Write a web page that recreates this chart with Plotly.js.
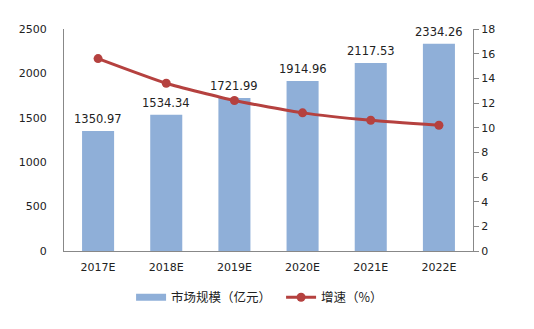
<!DOCTYPE html>
<html><head><meta charset="utf-8">
<script src="https://cdn.plot.ly/plotly-3.0.1.min.js"></script>
<style>html,body{margin:0;padding:0;background:#fff}#c{width:534px;height:329px}</style>
</head><body><div id="c"></div>
<script>
const years = ["2017E","2018E","2019E","2020E","2021E","2022E"];
const marketSize = [1350.97,1534.34,1721.99,1914.96,2117.53,2334.26];
const growth = [15.6,13.6,12.2,11.2,10.6,10.2];
const barName = "市场规模（亿元）";
const lineName = "增速（%）";
const barColor = "#8FAFD8";
const lineColor = "#B5413F";

const traces = [
  {type:"bar", x:years, y:marketSize, name:barName, marker:{color:barColor},
   width:0.47, showlegend:false},
  {type:"scatter", mode:"lines", x:[years[0]], y:[null], name:barName,
   line:{color:barColor, width:7}, showlegend:true},
  {type:"scatter", mode:"lines+markers", x:years, y:growth, yaxis:"y2", name:lineName,
   line:{color:lineColor, width:3, shape:"spline", smoothing:0.5}, marker:{color:lineColor, size:9}}
];
const annotations = years.map((c,i)=>({x:c, y:marketSize[i], xref:"x", yref:"y",
  text:marketSize[i].toFixed(2), showarrow:false, yanchor:"bottom", yshift:3,
  font:{family:"DejaVu Sans", size:11.5, color:"#222"}}));
const layout = {
  width:534, height:329, margin:{l:64, r:61, t:29, b:78},
  paper_bgcolor:"#fff", plot_bgcolor:"#fff",
  font:{family:"DejaVu Sans", size:11, color:"#222"},
  showlegend:true, annotations:annotations,
  legend:{orientation:"h", x:0.164, xanchor:"left", y:-0.21, yanchor:"middle",
    font:{family:"Noto Sans CJK SC", size:12.5, color:"#222"}, traceorder:"normal",
    entrywidth:105, itemwidth:30},
  xaxis:{type:"category", showline:true, linecolor:"#888", linewidth:1, ticks:"", showgrid:false,
    ticklabelstandoff:6},
  yaxis:{range:[0,2500], dtick:500, showline:true, linecolor:"#888", linewidth:1, showgrid:false,
    zeroline:false, ticks:"", ticklabelstandoff:14},
  yaxis2:{range:[0,18], dtick:2, overlaying:"y", side:"right", showline:true, linecolor:"#888",
    linewidth:1, showgrid:false, zeroline:false, ticks:"outside", ticklen:5, tickcolor:"#888"},
  bargap:0.53
};
Plotly.newPlot("c", traces, layout, {staticPlot:true});
</script></body></html>
